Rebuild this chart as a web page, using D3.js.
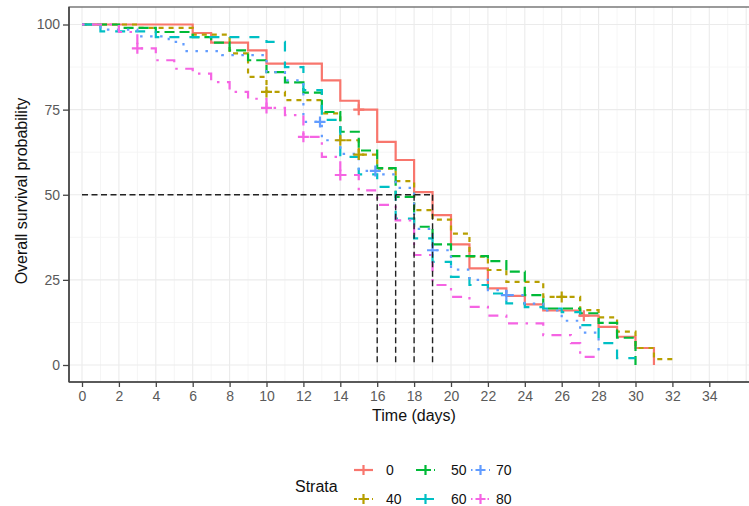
<!DOCTYPE html>
<html>
<head>
<meta charset="utf-8">
<script src="https://cdn.jsdelivr.net/npm/d3@7"></script>
<style>
  body { margin: 0; background: #fff; }
  svg { display: block; font-family: Arial, "Liberation Sans", sans-serif; }
</style>
</head>
<body>
<svg id="chart" width="749" height="506"></svg>
<script>
// strata and their step curves (time where a step starts, survival in %)
var strata = ["0", "40", "50", "60", "70", "80"];
var colours = ["#F8766D", "#B79F00", "#00BA38", "#00BFC4", "#619CFF", "#F564E3"];

var time0 = [0, 6, 7, 9, 10, 13, 14, 15, 16, 17, 18, 19, 20, 21, 22, 23, 24, 25, 27, 28, 29, 30, 31];
var surv0 = [100, 97.5, 94.7, 92.4, 88.5, 83.6, 77.6, 75, 65.5, 60.2, 50.8, 44, 35.4, 28.4, 22.5, 20.3, 17.8, 16, 14.5, 11.2, 8.3, 5, 0];
var cens0 = [15, 27.2];

var time40 = [0, 3, 6, 8, 9, 10, 11, 13, 14, 15, 16, 17, 18, 19, 20, 21, 22, 23, 25, 27, 28, 29, 30, 31, 32];
var surv40 = [100, 99, 97, 91.5, 84.6, 80.2, 77.8, 73.9, 66, 61.8, 57.7, 54, 45.5, 42.7, 38.6, 31.8, 27.9, 24.4, 20, 16.1, 14, 9.8, 5, 1.7, 1.7];
var cens40 = [10, 14, 15, 26];

var time50 = [0, 2, 4, 6, 7, 8, 9, 10, 11, 12, 13, 14, 15, 16, 17, 18, 19, 20, 22, 23, 24, 25, 27, 28, 29, 30];
var surv50 = [100, 99, 97.8, 96.3, 94.7, 92.4, 89.5, 86, 83, 80, 74.3, 68.5, 63, 57.8, 49.4, 40.6, 35.4, 32, 30.5, 27.4, 20.5, 16.6, 15.2, 12.4, 8, 0];
var cens50 = [];

var time60 = [0, 1, 4, 10, 11, 12, 13, 14, 15, 16, 17, 18, 19, 20, 21, 22, 23, 24, 25, 26, 27, 28, 29, 30];
var surv60 = [100, 98, 96.3, 94.9, 87.5, 80.7, 72, 61.1, 56, 52.3, 43, 37.2, 30.3, 25.9, 23.5, 21, 18.1, 17, 16.6, 15.5, 11.7, 6.4, 2, 2];
var cens60 = [];

var time70 = [0, 1, 3, 4.7, 5.5, 7.6, 10, 11, 12, 13, 14, 15, 16, 17, 18, 19, 20, 21, 22, 23, 24, 25, 26, 27, 28];
var surv70 = [100, 98.5, 96.5, 94.9, 92.2, 91, 86, 83.6, 71.4, 66, 62, 57, 56, 52, 40, 33.7, 28, 25, 22, 20.5, 18, 16, 13, 9.5, 3];
var cens70 = [12.9, 15.9, 19, 23];

var time80 = [0, 2, 3, 4, 5, 6, 7, 8, 9, 10, 11, 12, 13, 14, 15, 16, 17, 18, 19, 20, 21, 22, 23, 25, 26.5, 27, 28];
var surv80 = [100, 97.8, 93, 89.5, 87, 85.6, 83.1, 80.2, 78.2, 75.5, 73.4, 67, 61.1, 55.8, 51.3, 47, 42.5, 32.3, 23.5, 20, 17.1, 14.5, 12.2, 8.8, 6.4, 2.4, 2.4];
var cens80 = [3, 10, 12, 14];

// median survival times (dashed guides)
var medianTimes = [16, 17, 18, 19];

var xTicks = d3.range(0, 35, 2);
var yTicks = [0, 25, 50, 75, 100];

var times = [time0, time40, time50, time60, time70, time80];
var survs = [surv0, surv40, surv50, surv60, surv70, surv80];
var censs = [cens0, cens40, cens50, cens60, cens70, cens80];
var dashes = ["none", "5,5", "10,5", "10,10", "2.5,7.5", "2.5,7.5,10,7.5"];

var svg = d3.select("#chart");
var panel = { left: 69, top: 7, right: 760, bottom: 382 };

var x = d3.scaleLinear().domain([0, 34]).range([82, 709.3]);
var y = d3.scaleLinear().domain([0, 100]).range([365, 24.5]);

svg.append("clipPath").attr("id", "clip")
    .append("rect")
    .attr("x", panel.left).attr("y", panel.top)
    .attr("width", panel.right - panel.left).attr("height", panel.bottom - panel.top);

// grid
var grid = svg.append("g").attr("clip-path", "url(#clip)");
d3.range(0, 38).forEach(function (t) {
    grid.append("line")
        .attr("x1", x(t)).attr("x2", x(t))
        .attr("y1", panel.top).attr("y2", panel.bottom)
        .attr("stroke", t % 2 == 0 ? "#ebebeb" : "#f2f2f2")
        .attr("stroke-width", t % 2 == 0 ? 1.1 : 0.8);
});
d3.range(0, 101, 12.5).forEach(function (v) {
    grid.append("line")
        .attr("x1", panel.left).attr("x2", panel.right)
        .attr("y1", y(v)).attr("y2", y(v))
        .attr("stroke", v % 25 == 0 ? "#ebebeb" : "#f2f2f2")
        .attr("stroke-width", v % 25 == 0 ? 1.1 : 0.8);
});

// survival curves
var line = d3.line()
    .x(function (d) { return x(d[0]); })
    .y(function (d) { return y(d[1]); })
    .curve(d3.curveStepAfter);

function survAt(i, t) {
    var s = survs[i][0];
    for (var k = 0; k < times[i].length; k++) {
        if (times[i][k] <= t) s = survs[i][k];
    }
    return s;
}

var curves = svg.append("g").attr("clip-path", "url(#clip)");
strata.forEach(function (name, i) {
    var pts = times[i].map(function (t, k) { return [t, survs[i][k]]; });
    curves.append("path")
        .attr("d", line(pts))
        .attr("fill", "none")
        .attr("stroke", colours[i])
        .attr("stroke-width", 2.2)
        .attr("stroke-dasharray", dashes[i]);
});

// censor marks
strata.forEach(function (name, i) {
    censs[i].forEach(function (t) {
        var cx = x(t), cy = y(survAt(i, t));
        curves.append("path")
            .attr("d", "M" + (cx - 5.5) + "," + cy + "H" + (cx + 5.5) + "M" + cx + "," + (cy - 5.5) + "V" + (cy + 5.5))
            .attr("stroke", colours[i])
            .attr("stroke-width", 2.2);
    });
});

// median guides
var maxMedian = d3.max(medianTimes);
curves.append("line")
    .attr("x1", x(0)).attr("x2", x(maxMedian))
    .attr("y1", y(50)).attr("y2", y(50))
    .attr("stroke", "#222").attr("stroke-width", 1.4)
    .attr("stroke-dasharray", "6,3.5");
medianTimes.forEach(function (t) {
    curves.append("line")
        .attr("x1", x(t)).attr("x2", x(t))
        .attr("y1", y(50)).attr("y2", y(0))
        .attr("stroke", "#222").attr("stroke-width", 1.4)
        .attr("stroke-dasharray", "6,3.5");
});

// panel border
svg.append("rect")
    .attr("x", panel.left).attr("y", panel.top)
    .attr("width", panel.right - panel.left).attr("height", panel.bottom - panel.top)
    .attr("fill", "none").attr("stroke", "#666").attr("stroke-width", 1.3);

// axes
var xAxis = svg.append("g")
    .attr("transform", "translate(0," + panel.bottom + ")")
    .call(d3.axisBottom(x).tickValues(xTicks).tickSize(5).tickPadding(4));
var yAxis = svg.append("g")
    .attr("transform", "translate(" + panel.left + ",0)")
    .call(d3.axisLeft(y).tickValues(yTicks).tickSize(6).tickPadding(3));
[xAxis, yAxis].forEach(function (a) {
    a.select(".domain").remove();
    a.selectAll(".tick line").attr("stroke", "#444").attr("stroke-width", 1.3);
    a.selectAll(".tick text").attr("fill", "#5a5a5a").attr("font-size", "14px")
        .attr("font-family", "Arial, 'Liberation Sans', sans-serif");
});
svg.append("line").attr("x1", panel.left).attr("x2", panel.right)
    .attr("y1", panel.bottom).attr("y2", panel.bottom)
    .attr("stroke", "#444").attr("stroke-width", 1.6);
svg.append("line").attr("x1", panel.left).attr("x2", panel.left)
    .attr("y1", panel.top).attr("y2", panel.bottom)
    .attr("stroke", "#444").attr("stroke-width", 1.6);

// axis titles
svg.append("text")
    .attr("x", 414).attr("y", 421)
    .attr("text-anchor", "middle")
    .attr("font-size", "16px").attr("fill", "#111")
    .text("Time (days)");
svg.append("text")
    .attr("transform", "translate(27,191) rotate(-90)")
    .attr("text-anchor", "middle")
    .attr("font-size", "16px").attr("fill", "#111")
    .text("Overall survival probability");

// legend (column-wise, two rows)
var legend = svg.append("g");
legend.append("text")
    .attr("x", 295).attr("y", 492)
    .attr("font-size", "16px").attr("fill", "#111")
    .text("Strata");
var keyX = [354, 416, 471];
var labelX = [386, 451, 496];
var rowY = [470, 499];
strata.forEach(function (name, i) {
    var col = Math.floor(i / 2), row = i % 2;
    var kx = keyX[col], ky = rowY[row];
    var g = legend.append("g");
    g.append("line")
        .attr("x1", kx).attr("x2", kx + 19)
        .attr("y1", ky).attr("y2", ky)
        .attr("stroke", colours[i]).attr("stroke-width", 2.2)
        .attr("stroke-dasharray", dashes[i] == "none" ? null : dashes[i].split(",").map(function (d) { return d * 0.6; }).join(","));
    g.append("path")
        .attr("d", "M" + (kx + 4.5) + "," + ky + "H" + (kx + 14.5) + "M" + (kx + 9.5) + "," + (ky - 5) + "V" + (ky + 5))
        .attr("stroke", colours[i]).attr("stroke-width", 2.2);
    g.append("text")
        .attr("x", labelX[col]).attr("y", ky + 5)
        .attr("font-size", "14px").attr("fill", "#111")
        .text(name);
});
</script>
</body>
</html>
